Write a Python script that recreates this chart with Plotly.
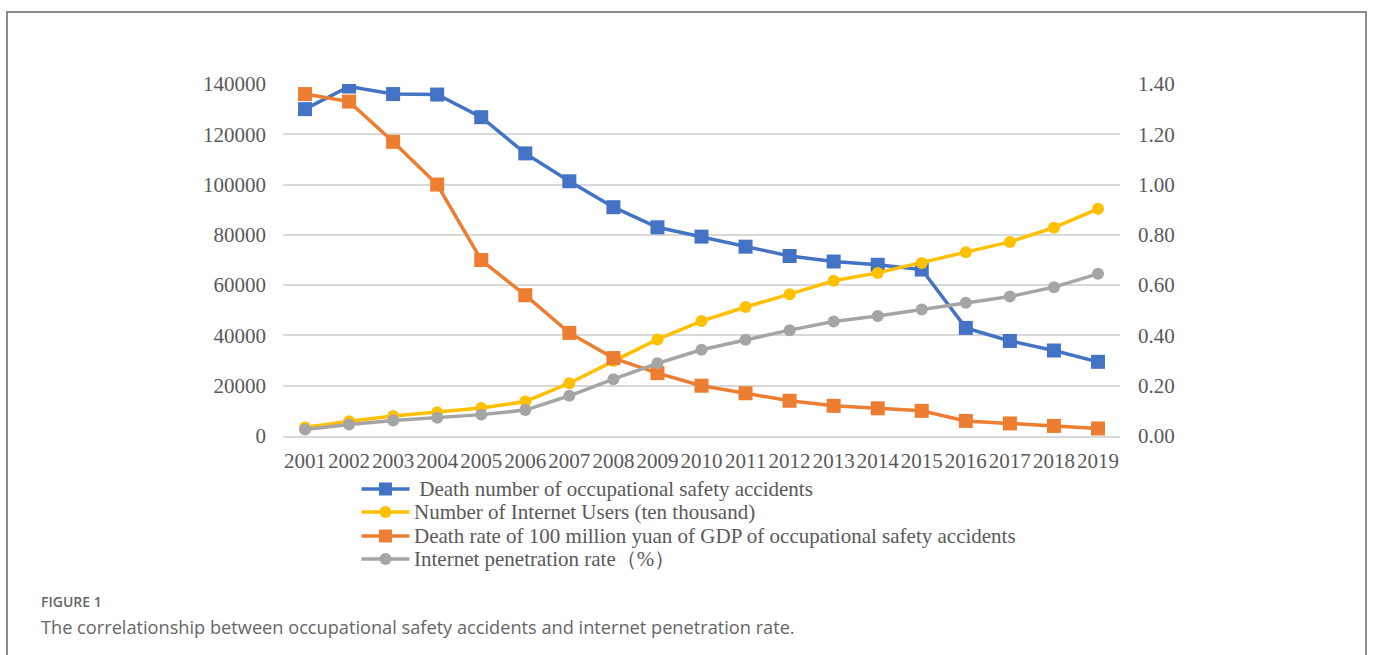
import plotly.graph_objects as go

# ---- data -------------------------------------------------------------
years = [str(y) for y in range(2001, 2020)]

death_number = [130000, 139000, 136000, 135800, 126800, 112400, 101300, 91000,
                83000, 79300, 75300, 71600, 69400, 68100, 66200, 43000,
                37800, 34000, 29500]

internet_users = [3370, 5910, 7950, 9400, 11100, 13700, 21000, 29800, 38400,
                  45730, 51310, 56400, 61758, 64875, 68826, 73125, 77198,
                  82851, 90359]

death_rate_gdp = [1.36, 1.33, 1.17, 1.00, 0.70, 0.56, 0.41, 0.31, 0.25, 0.20,
                  0.17, 0.14, 0.12, 0.11, 0.10, 0.06, 0.05, 0.04, 0.03]

penetration_rate = [0.026, 0.046, 0.062, 0.073, 0.085, 0.103, 0.160, 0.226,
                    0.289, 0.343, 0.383, 0.421, 0.455, 0.477, 0.503, 0.530,
                    0.555, 0.592, 0.645]

left_ticks = [0, 20000, 40000, 60000, 80000, 100000, 120000, 140000]
right_ticks = [0.0, 0.2, 0.4, 0.6, 0.8, 1.0, 1.2, 1.4]

names = [
    " Death number of occupational safety accidents",
    "Number of Internet Users (ten thousand)",
    "Death rate of 100 million yuan of GDP of occupational safety accidents",
    "Internet penetration rate\uff08%\uff09",
]

BLUE, YELLOW, ORANGE, GRAY = "#4472C4", "#FFC000", "#ED7D31", "#A5A5A5"

# ---- page geometry ----------------------------------------------------
W, H = 1373, 655
L, R, T, B = 283, 1120, 84, 436          # plot area edges in pixels
SERIF = "Liberation Serif, Times New Roman, serif"
TXT = "#595959"
FS = 21


def px(x):
    return (x - L) / (R - L)


def py(y):
    return (B - y) / (B - T)


fig = go.Figure()

series = [
    (death_number, BLUE, "square", 14, "y"),
    (internet_users, YELLOW, "circle", 12, "y"),
    (death_rate_gdp, ORANGE, "square", 14, "y2"),
    (penetration_rate, GRAY, "circle", 12, "y2"),
]

for (vals, col, sym, size, ax), name in zip(series, names):
    fig.add_trace(go.Scatter(
        x=years, y=vals, name=name, yaxis=ax, mode="lines+markers",
        line=dict(color=col, width=3.5),
        marker=dict(symbol=sym, size=size, color=col),
        showlegend=False, hoverinfo="x+y+name",
    ))

fig.update_layout(
    width=W, height=H,
    margin=dict(l=L, r=W - R, t=T, b=H - B),
    paper_bgcolor="white", plot_bgcolor="white",
    font=dict(family=SERIF, size=FS, color=TXT),
    xaxis=dict(
        type="category", range=[-0.5, len(years) - 0.5],
        showgrid=False, zeroline=False,
        showline=True, linecolor="#D9D9D9", linewidth=1.5,
        ticks="", ticklabelstandoff=5, tickangle=0,
        tickfont=dict(family=SERIF, size=FS, color=TXT),
    ),
    yaxis=dict(
        range=[0, 140000], tickvals=left_ticks, tickformat="d",
        showgrid=True, gridcolor="#D9D9D9", gridwidth=1.5,
        zeroline=False, showline=False, ticks="", ticklabelstandoff=16,
        tickfont=dict(family=SERIF, size=FS, color=TXT),
    ),
    yaxis2=dict(
        range=[0, 1.4], tickvals=right_ticks, tickformat=".2f",
        overlaying="y", side="right", showgrid=False, zeroline=False,
        showline=False, ticks="", ticklabelstandoff=17,
        tickfont=dict(family=SERIF, size=FS, color=TXT),
    ),
    showlegend=False,
)

# ---- outer frame ------------------------------------------------------
shapes = [dict(
    type="rect", xref="paper", yref="paper",
    x0=px(7), x1=px(1366), y0=py(700), y1=py(12),
    line=dict(color="#8C8C8C", width=2), fillcolor="rgba(0,0,0,0)",
    layer="below",
)]

# ---- legend drawn below the axis -------------------------------------
annotations = []
leg_rows = [489, 512, 536, 559]
leg_cx = 385.5
for (vals, col, sym, size, ax), name, ry in zip(series, names, leg_rows):
    shapes.append(dict(
        type="line", xref="paper", yref="paper",
        xsizemode="pixel", ysizemode="pixel",
        xanchor=px(leg_cx), yanchor=py(ry),
        x0=-24, x1=24, y0=0, y1=0,
        line=dict(color=col, width=3.5),
    ))
    half = 6.5 if sym == "square" else 6
    shapes.append(dict(
        type="rect" if sym == "square" else "circle",
        xref="paper", yref="paper",
        xsizemode="pixel", ysizemode="pixel",
        xanchor=px(leg_cx), yanchor=py(ry),
        x0=-half, x1=half, y0=-half, y1=half,
        line=dict(width=0), fillcolor=col,
    ))
    annotations.append(dict(
        xref="paper", yref="paper", x=px(412), y=py(ry),
        xanchor="left", yanchor="middle", showarrow=False,
        text=name, font=dict(family=SERIF, size=FS, color=TXT),
    ))

# ---- caption -----------------------------------------------------------
annotations.append(dict(
    xref="paper", yref="paper", x=px(39), y=py(601),
    xanchor="left", yanchor="middle", showarrow=False,
    text="FIGURE 1",
    font=dict(family="Open Sans, sans-serif", size=14, color="#666666",
              weight=600),
))
annotations.append(dict(
    xref="paper", yref="paper", x=px(39), y=py(627),
    xanchor="left", yanchor="middle", showarrow=False,
    text="The correlationship between occupational safety accidents and "
         "internet penetration rate.",
    font=dict(family="Open Sans, sans-serif", size=18.2, color="#666666"),
))

fig.update_layout(shapes=shapes, annotations=annotations)

fig.write_html("out.html")
